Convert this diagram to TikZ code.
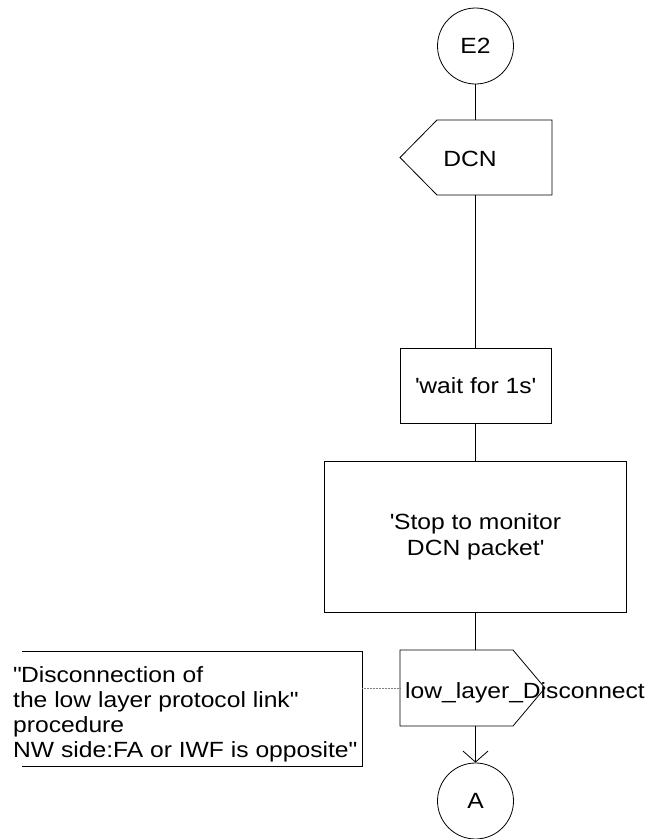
\documentclass[tikz,border=0pt]{standalone}
\usepackage{fontspec}
\setmainfont{Liberation Sans}[FakeStretch=1.12]
\usetikzlibrary{arrows.meta}
\newcommand{\qsg}{\textquotesingle}
\newcommand{\qdb}{\textquotedbl}
\begin{document}
\begin{tikzpicture}[x=1pt,y=-1pt,
  ln/.style={draw=black,line width=0.8pt},
  txt/.style={font=\fontsize{22}{25}\selectfont,inner sep=0pt},
  conn/.style={circle,ln,minimum size=76pt,inner sep=0pt,font=\fontsize{22}{25}\selectfont},
  taskbox/.style={rectangle,ln,inner sep=0pt,align=center,font=\fontsize{22}{26}\selectfont},
  note/.style={draw=gray,line width=0.5pt,densely dotted}]
\useasboundingbox (0,0) rectangle (649,839);
% start connector
\node[conn] (e2) at (475.5,46) {E2};
% input signal DCN
\draw[ln] (552,120) -- (437,120) -- (400,157.5) -- (437,195) -- (552,195) -- cycle;
\coordinate (dcnT) at (475.5,120);
\coordinate (dcnB) at (475.5,195);
\node[txt] (dcn) at (470,159) {DCN};
% task boxes
\node[taskbox,minimum width=151pt,minimum height=75pt] (wait) at (475.5,385.5) {\qsg wait for 1s\qsg};
\node[taskbox,minimum width=302pt,minimum height=151pt] (stop) at (475.5,536.5) {\qsg Stop to monitor\\ DCN packet\qsg};
% output signal
\draw[ln] (400,650) -- (513,650) -- (545,688) -- (513,726) -- (400,726) -- cycle;
\coordinate (lowT) at (475.5,650);
\coordinate (lowB) at (475.5,726);
\coordinate (lowL) at (400,688);
\node[txt,anchor=base west] (low) at (405,698) {low\_layer\_Disconnect};
% comment
\draw[ln] (22,651) -- (362,651) -- (362,766) -- (22,766);
\coordinate (cmtR) at (362,688);
\node[txt,anchor=north west,align=left] (cmt) at (13,666.5) {\qdb Disconnection of\\the low layer protocol link\qdb\\procedure\\NW side:FA or IWF is opposite\qdb};
% end connector
\node[conn] (a) at (475.5,801) {A};
% connectors
\draw[ln] (e2) -- (dcnT);
\draw[ln] (dcnB) -- (wait);
\draw[ln] (wait) -- (stop);
\draw[ln] (stop) -- (lowT);
\draw[ln,-{Straight Barb[length=11pt,width=25pt,line width=0.8pt]}] (lowB) -- (a);
\draw[note] (cmtR) -- (lowL);
\end{tikzpicture}
\end{document}
